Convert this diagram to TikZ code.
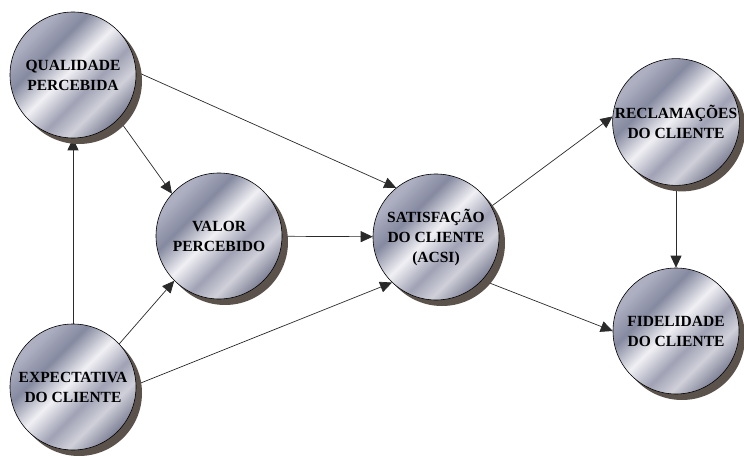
\documentclass[tikz,border=0pt]{standalone}
\usepackage{fontspec}
\setmainfont{Liberation Serif}
\usetikzlibrary{arrows.meta,shadows,backgrounds}
\definecolor{mA}{HTML}{AEB0C2}
\definecolor{mB}{HTML}{868AA0}
\definecolor{mC}{HTML}{F0F0F4}
\definecolor{mD}{HTML}{A0A2B5}
\definecolor{mE}{HTML}{CFD0D9}
\definecolor{mF}{HTML}{7E8196}
\definecolor{shadowc}{HTML}{5B534B}
\definecolor{linec}{HTML}{2A2A2A}
\pgfdeclarehorizontalshading{metal}{100bp}{color(0bp)=(mA); color(27bp)=(mA); color(37bp)=(mB); color(48bp)=(mC); color(58bp)=(mD); color(66bp)=(mE); color(75bp)=(mF); color(100bp)=(mF)}
\tikzset{
  ball/.style={circle, draw=black, line width=0.6pt, minimum size=126pt, inner sep=0pt,
    shading=metal, shading angle=-45, align=center,
    font=\fontsize{15.5}{20}\selectfont\bfseries,
    drop shadow={shadow xshift=6pt, shadow yshift=-6pt, fill=shadowc, opacity=1}},
  arr/.style={draw=linec, line width=0.7pt, -{Triangle[length=12pt,width=11pt]}}
}
\begin{document}
\begin{tikzpicture}[x=1pt,y=-1pt]
\useasboundingbox (0,0) rectangle (744,457);
\node[ball] (q) at (73,75) {QUALIDADE\\PERCEBIDA};
\node[ball] (v) at (219,236) {VALOR\\PERCEBIDO};
\node[ball] (s) at (436,237) {SATISFAÇÃO\\DO CLIENTE\\(ACSI)};
\node[ball] (r) at (676,122) {RECLAMAÇÕES\\DO CLIENTE};
\node[ball] (f) at (676,331) {FIDELIDADE\\DO CLIENTE};
\node[ball] (e) at (73,387) {EXPECTATIVA\\DO CLIENTE};
\begin{pgfonlayer}{background}
\draw[arr] (e) -- (q);
\draw[arr] (q.-44) -- (v.138);
\draw[arr] (q.3) -- (s.129);
\draw[arr] (v) -- (s);
\draw[arr] (e.43) -- (v.225);
\draw[arr] (e.2) -- (s.226);
\draw[arr] (s.29) -- (r.175);
\draw[arr] (s.-43) -- (f.180);
\draw[arr] (r) -- (f);
\end{pgfonlayer}
\end{tikzpicture}
\end{document}
